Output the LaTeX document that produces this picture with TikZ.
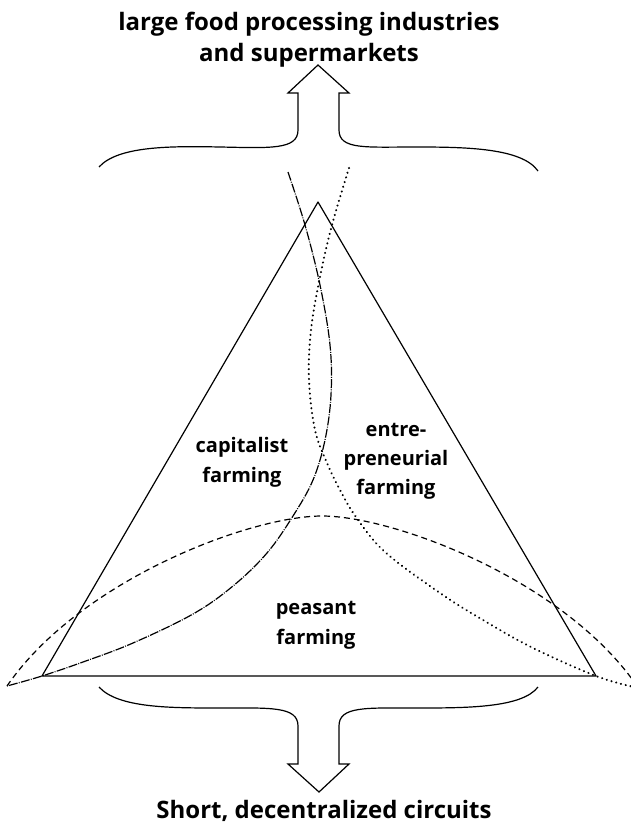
\documentclass[tikz,border=0pt]{standalone}
\usepackage{fontspec}
\setmainfont{Open Sans}
\begin{document}
\begin{tikzpicture}[x=1pt,y=-1pt,
  edge/.style={line width=1.2pt, line join=round},
  arcdash/.style={line width=1.2pt, dash pattern=on 6pt off 4pt},
  dotline/.style={line width=2.2pt, dash pattern=on 0.1pt off 4.8pt, line cap=round},
  dashdot/.style={line width=1.2pt, dash pattern=on 9pt off 1.3pt on 0.9pt off 1.3pt},
  brace/.style={line width=1.2pt, line join=miter},
  title/.style={font=\fontsize{24}{28}\selectfont\bfseries, anchor=base, inner sep=0pt},
  lab/.style={font=\fontsize{20}{24}\selectfont\bfseries, anchor=base, inner sep=0pt}]
\useasboundingbox (0,0) rectangle (631,824);
\fill[white] (0,0) rectangle (631,824);

% triangle
\coordinate (A) at (318,202);
\coordinate (B) at (42,676);
\coordinate (C) at (596,676);
\draw[edge] (A) -- (B) -- (C) -- cycle;

\begin{scope}
\clip (0,0) rectangle (631,824);
% peasant (dashed arc)
\coordinate (pl) at (7,686);
\coordinate (pt) at (322,516);
\coordinate (pr) at (637,686);
\draw[arcdash] (pl) .. controls (80,580) and (250,516) .. (pt)
  .. controls (394,516) and (564,580) .. (pr);
% capitalist boundary
\draw[dashdot] plot[smooth, tension=0.6] coordinates {(288,172) (305,225) (320,285) (330,345) (331,395) (325,440) (313,480) (293,516) (267,553) (233,586) (193,614) (133,643) (83,662) (42,676) (7,686)};
% entrepreneurial boundary
\draw[dotline] plot[smooth, tension=0.6] coordinates {(349,168) (332,225) (320,277) (311,330) (309,380) (315,430) (327,463) (340,490) (356,517) (385,552) (440,593) (483,620) (533,648) (596,676) (634,687)};
\end{scope}

% top brace with arrow
\draw[brace] (99,167) .. controls (118,146) and (170,146) .. (220,147)
  .. controls (270,148) and (298,150) .. (298,130) -- (298,93) -- (288,93) -- (318,65)
  -- (349,93) -- (339,93) -- (339,130)
  .. controls (339,150) and (366,147) .. (416,147)
  .. controls (466,147) and (522,148) .. (538,171);
% bottom brace with arrow
\draw[brace] (99,687) .. controls (118,708) and (170,708) .. (220,708)
  .. controls (270,708) and (298,706) .. (298,726) -- (298,764) -- (288,764) -- (319,792)
  -- (349,764) -- (339,764) -- (339,726)
  .. controls (339,706) and (366,708) .. (416,708)
  .. controls (466,708) and (522,708) .. (538,687);

% texts
\node[title] (t1) at (309,31) {large food processing industries};
\node[title] (t2) at (309,62) {and supermarkets};
\node[title] (t3) at (324,818) {Short, decentralized circuits};
\node[lab] (c1) at (242,452) {capitalist};
\node[lab] (c2) at (242,482) {farming};
\node[lab] (e1) at (396,436) {entre-};
\node[lab] (e2) at (396,465) {preneurial};
\node[lab] (e3) at (396,494) {farming};
\node[lab] (p1) at (316,614) {peasant};
\node[lab] (p2) at (316,644) {farming};
\end{tikzpicture}
\end{document}
